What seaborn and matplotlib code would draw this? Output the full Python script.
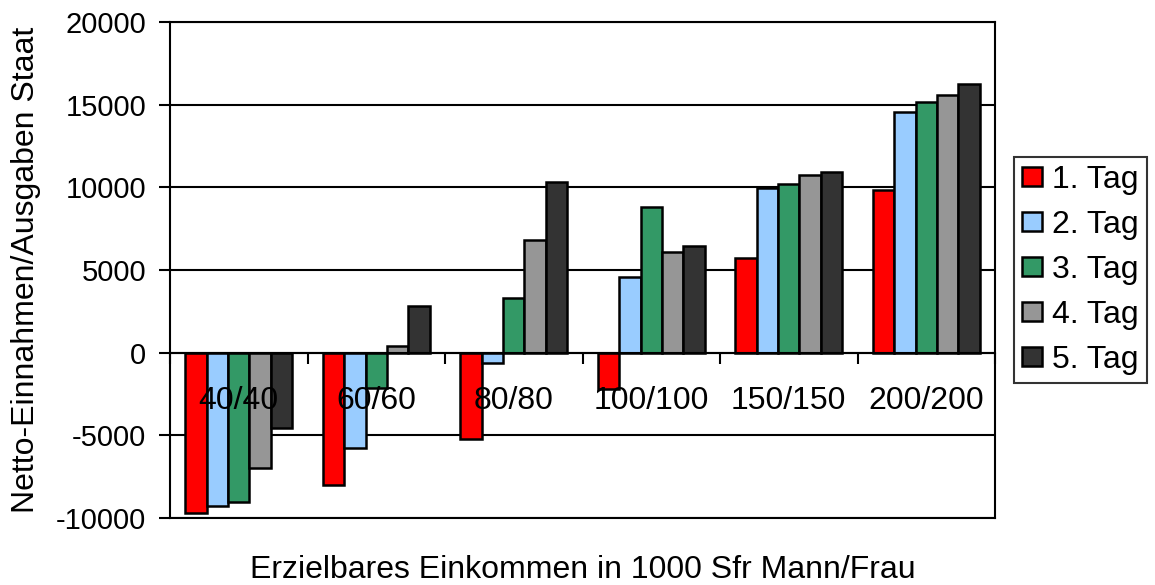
import matplotlib
matplotlib.use("Agg")
import matplotlib.pyplot as plt
import seaborn as sns
import pandas as pd

categories = ["40/40", "60/60", "80/80", "100/100", "150/150", "200/200"]
series_names = ["1. Tag", "2. Tag", "3. Tag", "4. Tag", "5. Tag"]
tag1 = [-9700, -8000, -5230, -2200, 5730, 9820]
tag2 = [-9290, -5760, -640, 4570, 9960, 14530]
tag3 = [-9050, -2140, 3310, 8830, 10200, 15160]
tag4 = [-6970, 400, 6810, 6070, 10760, 15580]
tag5 = [-4550, 2800, 10330, 6450, 10940, 16250]
colors = ["#FF0000", "#99CCFF", "#339966", "#969696", "#333333"]
y_ticks = [-10000, -5000, 0, 5000, 10000, 15000, 20000]

rows = []
for name, vals in zip(series_names, [tag1, tag2, tag3, tag4, tag5]):
    for c, v in zip(categories, vals):
        rows.append({"Kategorie": c, "Serie": name, "Wert": v})
df = pd.DataFrame(rows)

sns.set_theme(style="white")
plt.rcParams["font.family"] = ["Liberation Sans", "DejaVu Sans"]
plt.rcParams["text.color"] = "black"
plt.rcParams["axes.labelcolor"] = "black"
plt.rcParams["xtick.color"] = "black"
plt.rcParams["ytick.color"] = "black"

fig = plt.figure(figsize=(11.55, 5.85), dpi=100)
ax = fig.add_axes([170/1155, 1-518/585, 825/1155, 496/585])

ax.set_axisbelow(True)
for y in y_ticks:
    ax.axhline(y, color="black", lw=1.5, zorder=0)

sns.barplot(data=df, x="Kategorie", y="Wert", hue="Serie",
            order=categories, hue_order=series_names, palette=colors,
            width=0.775, edgecolor="black", linewidth=1.8, saturation=1,
            ax=ax, errorbar=None)

ax.set_ylim(-10000, 20000)
ax.set_xlim(-0.5, len(categories) - 0.5)
ax.set_yticks(y_ticks)
ax.set_yticklabels([str(t) for t in y_ticks])
ax.tick_params(axis="y", direction="out", length=8, width=1.5, labelsize=21,
               left=True, pad=9, colors="black")
for s in ax.spines.values():
    s.set_color("black")
    s.set_linewidth(1.5)
    s.set_visible(True)

# category axis crossing at 0
ax.set_xticks([])
ax.set_xlabel("Erzielbares Einkommen in 1000 Sfr Mann/Frau", fontsize=23)
ax.set_ylabel("Netto-Einnahmen/Ausgaben Staat", fontsize=23)
ax.xaxis.set_label_coords(0.5, (518 - 555) / 496)
ax.yaxis.set_label_coords((41 - 170) / 825, 0.5)

sec = ax.secondary_xaxis(0, transform=ax.transData)
sec.set_zorder(3)
sec.spines["bottom"].set_linewidth(1.5)
sec.spines["bottom"].set_color("black")
sec.set_xticks([i - 0.5 for i in range(len(categories) + 1)])
sec.set_xticklabels([])
sec.set_xticks(list(range(len(categories))), minor=True)
sec.set_xticklabels(categories, minor=True)
sec.tick_params(axis="x", which="major", direction="out", length=8, width=1.5, colors="black")
sec.tick_params(axis="x", which="minor", length=0, labelsize=23, pad=24, colors="black")

handles, labels = ax.get_legend_handles_labels()
if ax.get_legend() is not None:
    ax.get_legend().remove()
leg = fig.legend(handles, labels, loc="center left",
                 bbox_to_anchor=(1014/1155, 1-270/585), fontsize=23,
                 frameon=True, fancybox=False, edgecolor="black",
                 handlelength=0.63, handleheight=0.56, handletextpad=0.31,
                 labelspacing=0.47, borderpad=0.25, borderaxespad=0)
leg.get_frame().set_linewidth(1.5)

fig.savefig("out.png", dpi=100)
